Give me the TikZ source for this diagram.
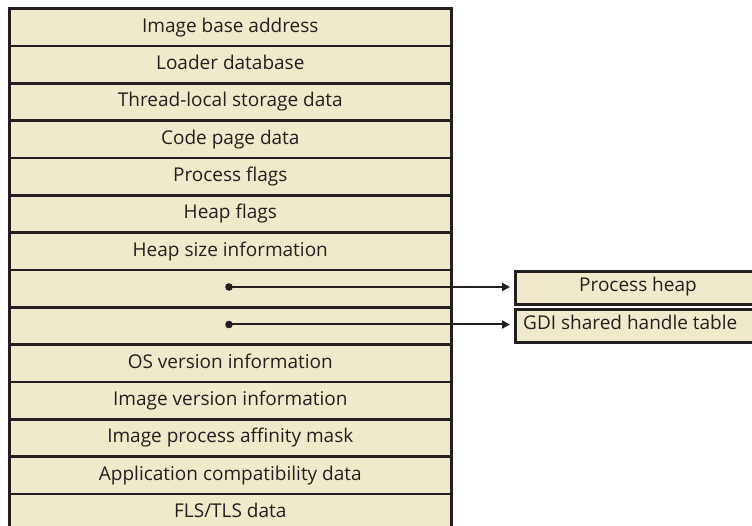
\documentclass[tikz,border=0pt]{standalone}
\usepackage{fontspec}
\setmainfont{Open Sans}
\usetikzlibrary{arrows.meta}
\definecolor{boxfill}{RGB}{239,234,204}
\definecolor{ink}{RGB}{35,31,32}
\tikzset{txt/.style={text=ink,font=\fontsize{19}{22}\selectfont,text height=13.5pt,text depth=4pt}}
\begin{document}
\begin{tikzpicture}[x=1pt,y=-1pt,
  row/.style={txt,draw=ink,fill=boxfill,line width=2.6pt,minimum width=442pt,minimum height=37.33pt,inner sep=0pt,anchor=north west},
  side/.style={txt,draw=ink,fill=boxfill,line width=2.6pt,minimum width=260pt,minimum height=33pt,inner sep=0pt,anchor=north west},
  ptr/.style={draw=ink,line width=2pt,shorten >=4pt,-{Triangle[length=8pt,width=8pt]}}]
\useasboundingbox (0,0) rectangle (752,526);
\clip (0,0) rectangle (752,526);
\foreach \t [count=\i from 0] in {Image base address,Loader database,Thread-local storage data,Code page data,Process flags,Heap flags,Heap size information,{},{},OS version information,Image version information,Image process affinity mask,Application compatibility data,FLS/TLS data}{
  \node[row] (r\i) at (8,7.5+37.33*\i) {\t};
}
\node[side] (ph) at (514,270) {};
\node[txt,inner sep=0pt] (pht) at (638,286.5) {Process heap};
\node[side] (gdi) at (514,308) {};
\node[txt,anchor=west,inner sep=0pt] (gdit) at (523,324.5) {GDI shared handle table};
\coordinate (d1) at (229,287);
\coordinate (d2) at (229,324.5);
\fill[ink] (d1) circle (3.8pt);
\fill[ink] (d2) circle (3.8pt);
\draw[ptr] (d1) -- (d1 -| ph.west);
\draw[ptr] (d2) -- (d2 -| gdi.west);
\end{tikzpicture}
\end{document}
